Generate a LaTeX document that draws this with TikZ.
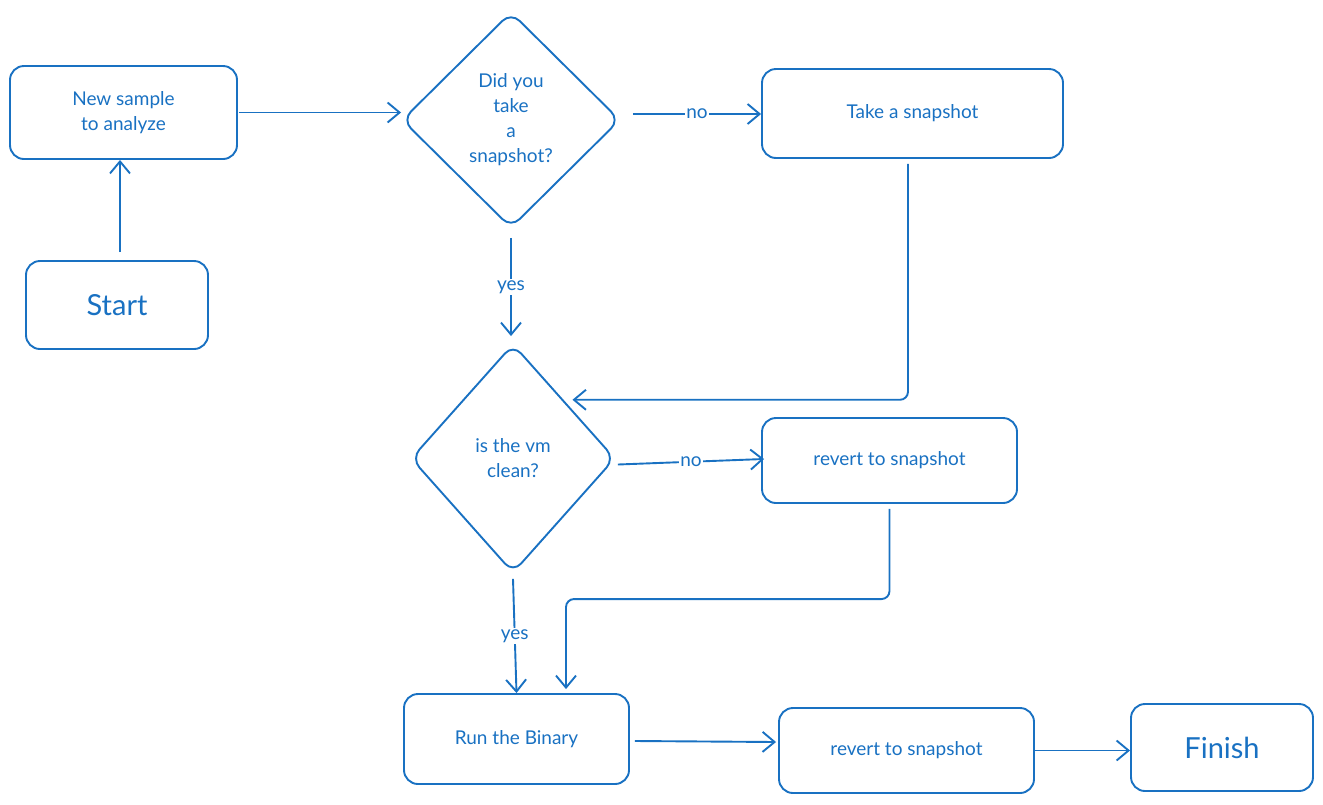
\documentclass[tikz,border=0pt]{standalone}
\usepackage{fontspec}
\setmainfont{Lato}
\usetikzlibrary{arrows.meta,shapes.geometric}
\definecolor{ink}{HTML}{1971C2}
\begin{document}
\begin{tikzpicture}[x=1pt,y=-1pt,
  every node/.style={text=ink,font=\fontsize{19}{25}\selectfont},
  box/.style={draw=ink,line width=1.9pt,rounded corners=14pt,inner sep=0pt,align=center},
  bigbox/.style={box,font=\fontsize{29}{32}\selectfont},
  decision/.style={draw=ink,line width=1.9pt,diamond,rounded corners=12pt,inner sep=0pt,align=center},
  link/.style={draw=ink,line width=1.9pt,-{Straight Barb[length=12pt,width=20pt,line width=1.9pt]}},
  tag/.style={fill=white,inner sep=1pt,font=\fontsize{19}{20}\selectfont}]
\useasboundingbox (0,0) rectangle (1323,804);
% boxes
\node[box,minimum width=227pt,minimum height=93pt] (new) at (123.5,112.5) {New sample\\to analyze};
\node[bigbox,minimum width=182pt,minimum height=88pt] (start) at (117,305) {Start};
\node[decision,minimum width=218pt,minimum height=216pt] (d1) at (511,120) {Did you\\take\\a\\snapshot?};
\node[decision,minimum width=204pt,minimum height=229pt] (d2) at (513,458.5) {is the vm\\clean?};
\node[box,minimum width=301pt,minimum height=89pt] (take) at (912.5,113.5) {Take a snapshot};
\node[box,minimum width=255pt,minimum height=85pt] (rev1) at (889.5,460.5) {revert to snapshot};
\node[box,minimum width=225pt,minimum height=90pt] (run) at (516.5,739) {Run the Binary};
\node[box,minimum width=255pt,minimum height=85pt] (rev2) at (906.5,750.5) {revert to snapshot};
\node[bigbox,minimum width=182pt,minimum height=87pt] (fin) at (1222,747.5) {Finish};
% connectors
\draw[link] ([shift={(3pt,8pt)}]start.north) -- ([xshift=3pt]start.north |- new.south);
\draw[link] ([xshift=1pt]new.east) -- (new.east -| d1.west);
\draw[link] ([xshift=12pt,yshift=6pt]d1.east) -- ([yshift=-0.5pt]take.west)
  node[tag,midway,yshift=0.5pt] {no};
\draw[link] ([yshift=-9pt]d1.south) -- ([yshift=7pt]d1.south |- d2.north)
  node[tag,midway] {yes};
\draw[link,rounded corners=8pt] ([shift={(-4.5pt,-5pt)}]take.south) |- ([shift={(8pt,1pt)}]d2.north east);
\draw[link] ([xshift=2pt,yshift=-6pt]d2.east) -- ([xshift=3pt,yshift=1.5pt]rev1.west)
  node[tag,midway] {no};
\draw[link] ([yshift=-5pt]d2.south) -- ([xshift=3.5pt]d2.south |- run.north)
  node[tag,midway] {yes};
\draw[link,rounded corners=8pt] ([yshift=-5pt]rev1.south) |- ([xshift=49.5pt,yshift=94pt]run.north) -- ([xshift=49.5pt,yshift=4pt]run.north);
\draw[link] ([xshift=5pt,yshift=-2pt]run.east) -- ([xshift=-2pt,yshift=-3pt]run.east -| rev2.west);
\draw[link] (rev2.east) -- (rev2.east -| fin.west);
\end{tikzpicture}
\end{document}
